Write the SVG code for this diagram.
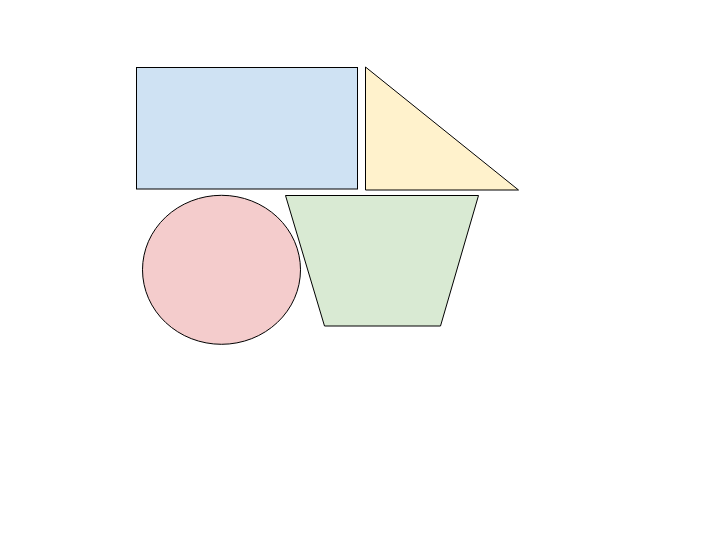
<svg xmlns="http://www.w3.org/2000/svg" width="720" height="540" viewBox="0 0 720 540">
<style>
.s{stroke:#000;stroke-width:1}
</style>
<rect width="720" height="540" fill="#fff"/>
<g id="rect"><rect class="s" x="136.5" y="67.5" width="221" height="121.5" fill="#cfe2f3"/></g>
<g id="triangle"><polygon class="s" points="365.5,67 365.5,190 518.5,190" fill="#fff2cc"/></g>
<g id="ellipse"><ellipse class="s" cx="221.5" cy="269.8" rx="79" ry="74.5" fill="#f4cccc"/></g>
<g id="trapezoid"><polygon class="s" points="285.5,195.5 478.5,195.5 440.5,326 324.5,326" fill="#d9ead3"/></g>
<g id="connectors"></g>
</svg>
